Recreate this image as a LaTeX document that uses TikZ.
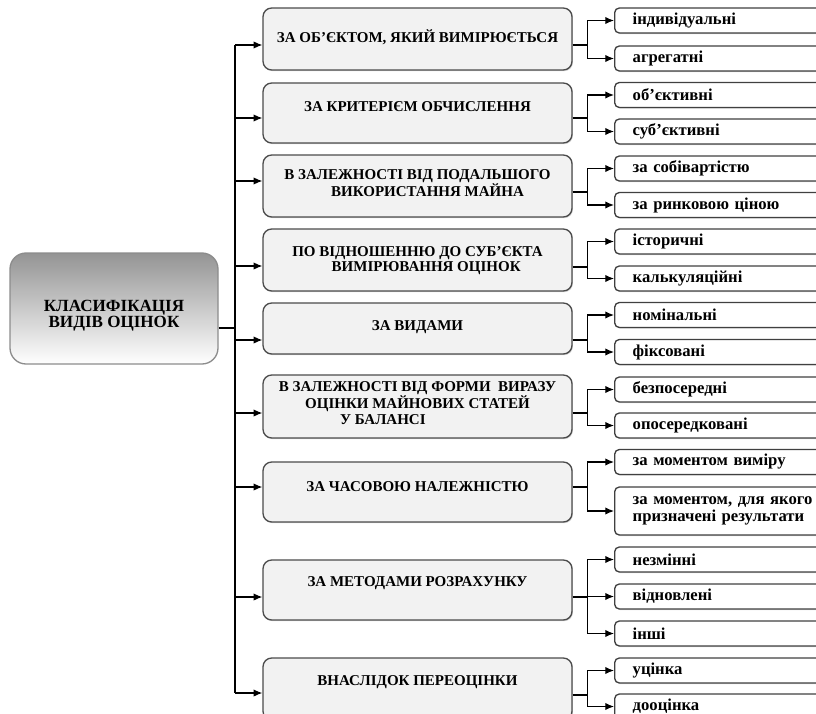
\documentclass[tikz,border=0pt]{standalone}
\usepackage{fontspec}
\setmainfont{Liberation Serif}
\usetikzlibrary{arrows.meta,shadows}

\begin{document}
\begin{tikzpicture}[
  x=0.75pt, y=-0.75pt,
  >={Latex[length=6.5pt,width=5.5pt]},
  link/.style={line width=0.9pt},
  rootbox/.style={draw=black!45,line width=1pt,rounded corners=12pt,
    top color=black!42,middle color=white,bottom color=white,
    minimum width=156pt,minimum height=83.25pt},
  midbox/.style={draw=black!70,line width=1pt,rounded corners=6.5pt,fill=black!5,
    minimum width=231.75pt,
    drop shadow={shadow xshift=0.7pt,shadow yshift=-0.9pt,opacity=0.3}},
  midtext/.style={font=\bfseries\fontsize{11.25}{11.6}\selectfont,align=center,inner sep=0pt},
  leaf/.style={draw=black!75,line width=1pt,rounded corners=3.5pt,fill=white,anchor=west,
    minimum width=169.5pt,minimum height=18.75pt,inner xsep=13.5pt,inner ysep=1pt,
    text width=142.5pt,align=left,font=\bfseries\fontsize{12.5}{12.8}\selectfont,
    drop shadow={shadow xshift=0.6pt,shadow yshift=-0.8pt,opacity=0.3}}
]
  \useasboundingbox (0,0) rectangle (816,713);
  \clip (0,0) rectangle (816,713);

  % root of the classification
  \node[rootbox] (root) at (114,308.5) {};
  \node[font=\bfseries\fontsize{12.8}{11}\selectfont,align=center,inner sep=0pt]
    (roottext) at (114,316) {КЛАСИФІКАЦІЯ\\ВИДІВ ОЦІНОК};

  % criteria
  \node[midbox,minimum height=46.5pt]  (m1) at (417.5,39) {};
  \node[midbox,minimum height=45pt]    (m2) at (417.5,113) {};
  \node[midbox,minimum height=46.5pt]  (m3) at (417.5,186) {};
  \node[midbox,minimum height=46.5pt]  (m4) at (417.5,260) {};
  \node[midbox,minimum height=38.25pt] (m5) at (417.5,328.5) {};
  \node[midbox,minimum height=47.25pt] (m6) at (417.5,406.5) {};
  \node[midbox,minimum height=45pt]    (m7) at (417.5,492) {};
  \node[midbox,minimum height=45pt]    (m8) at (417.5,590) {};
  \node[midbox,minimum height=46.5pt]  (m9) at (417.5,689) {};

  \node[midtext] (m1t) at (417.5,37) {ЗА ОБ’ЄКТОМ, ЯКИЙ ВИМІРЮЄТЬСЯ};
  \node[midtext] (m2t) at (417.5,107) {ЗА КРИТЕРІЄМ ОБЧИСЛЕННЯ};
  \node[midtext] (m3t) at (417.5,183) {В ЗАЛЕЖНОСТІ ВІД ПОДАЛЬШОГО\\\hspace*{15pt}ВИКОРИСТАННЯ МАЙНА};
  \node[midtext] (m4t) at (417.5,260.5) {ПО ВІДНОШЕННЮ ДО СУБ'ЄКТА\\\hspace*{13pt}ВИМІРЮВАННЯ ОЦІНОК};
  \node[midtext] (m5t) at (417.5,327) {ЗА ВИДАМИ};
  \node[midtext] (m6t) at (417.5,403) {В ЗАЛЕЖНОСТІ ВІД ФОРМИ \ ВИРАЗУ\\ОЦІНКИ МАЙНОВИХ СТАТЕЙ\\У БАЛАНСІ\hspace*{52pt}};
  \node[midtext] (m7t) at (417.5,487) {ЗА ЧАСОВОЮ НАЛЕЖНІСТЮ};
  \node[midtext] (m8t) at (417.5,583) {ЗА МЕТОДАМИ РОЗРАХУНКУ};
  \node[midtext] (m9t) at (417.5,682) {ВНАСЛІДОК ПЕРЕОЦІНКИ};

  % kinds
  \node[leaf] (l1a) at (614,20.5) {індивідуальні};
  \node[leaf] (l1b) at (614,58.5) {агрегатні};
  \node[leaf] (l2a) at (614,95) {об’єктивні};
  \node[leaf] (l2b) at (614,131.5) {суб’єктивні};
  \node[leaf] (l3a) at (614,168.5) {за собівартістю};
  \node[leaf] (l3b) at (614,205) {за ринковою ціною};
  \node[leaf] (l4a) at (614,241.5) {історичні};
  \node[leaf] (l4b) at (614,278.5) {калькуляційні};
  \node[leaf] (l5a) at (614,315) {номінальні};
  \node[leaf] (l5b) at (614,352) {фіксовані};
  \node[leaf] (l6a) at (614,389.5) {безпосередні};
  \node[leaf] (l6b) at (614,425.5) {опосередковані};
  \node[leaf] (l7a) at (614,462) {за моментом виміру};
  \node[leaf,minimum height=36pt] (l7b) at (614,511) {за моментом, для якого\\призначені результати};
  \node[leaf] (l8a) at (614,559.5) {незмінні};
  \node[leaf] (l8b) at (614,596.5) {відновлені};
  \node[leaf] (l8c) at (614,633.5) {інші};
  \node[leaf] (l9a) at (614,670.5) {уцінка};
  \node[leaf] (l9b) at (614,706.5) {дооцінка};

  % spine
  \coordinate (spine) at (235,45);
  \draw[link] (spine) -- (spine|-0,693);
  \draw[link] (root.east|-0,328) -- (spine|-0,328);
  \foreach \m/\y in {m1/45,m2/118,m3/181,m4/266,m5/340,m6/413,m7/487,m8/597,m9/693}
    \draw[link,->] (spine|-0,\y) -- (\m.west|-0,\y);

  % forks to the kinds
  \foreach \m/\y/\kinds in {m1/45/{l1a,l1b},m2/118/{l2a,l2b},m3/192/{l3a,l3b},
      m4/267/{l4a,l4b},m5/340/{l5a,l5b},m6/413/{l6a,l6b},m7/487/{l7a,l7b},
      m8/597/{l8a,l8b,l8c},m9/695/{l9a,l9b}}{
    \draw[link] (\m.east|-0,\y) -- ++(15,0) coordinate (fork);
    \foreach \k in \kinds
      \draw[link,->] (fork) |- (\k.west);
  }
\end{tikzpicture}
\end{document}
